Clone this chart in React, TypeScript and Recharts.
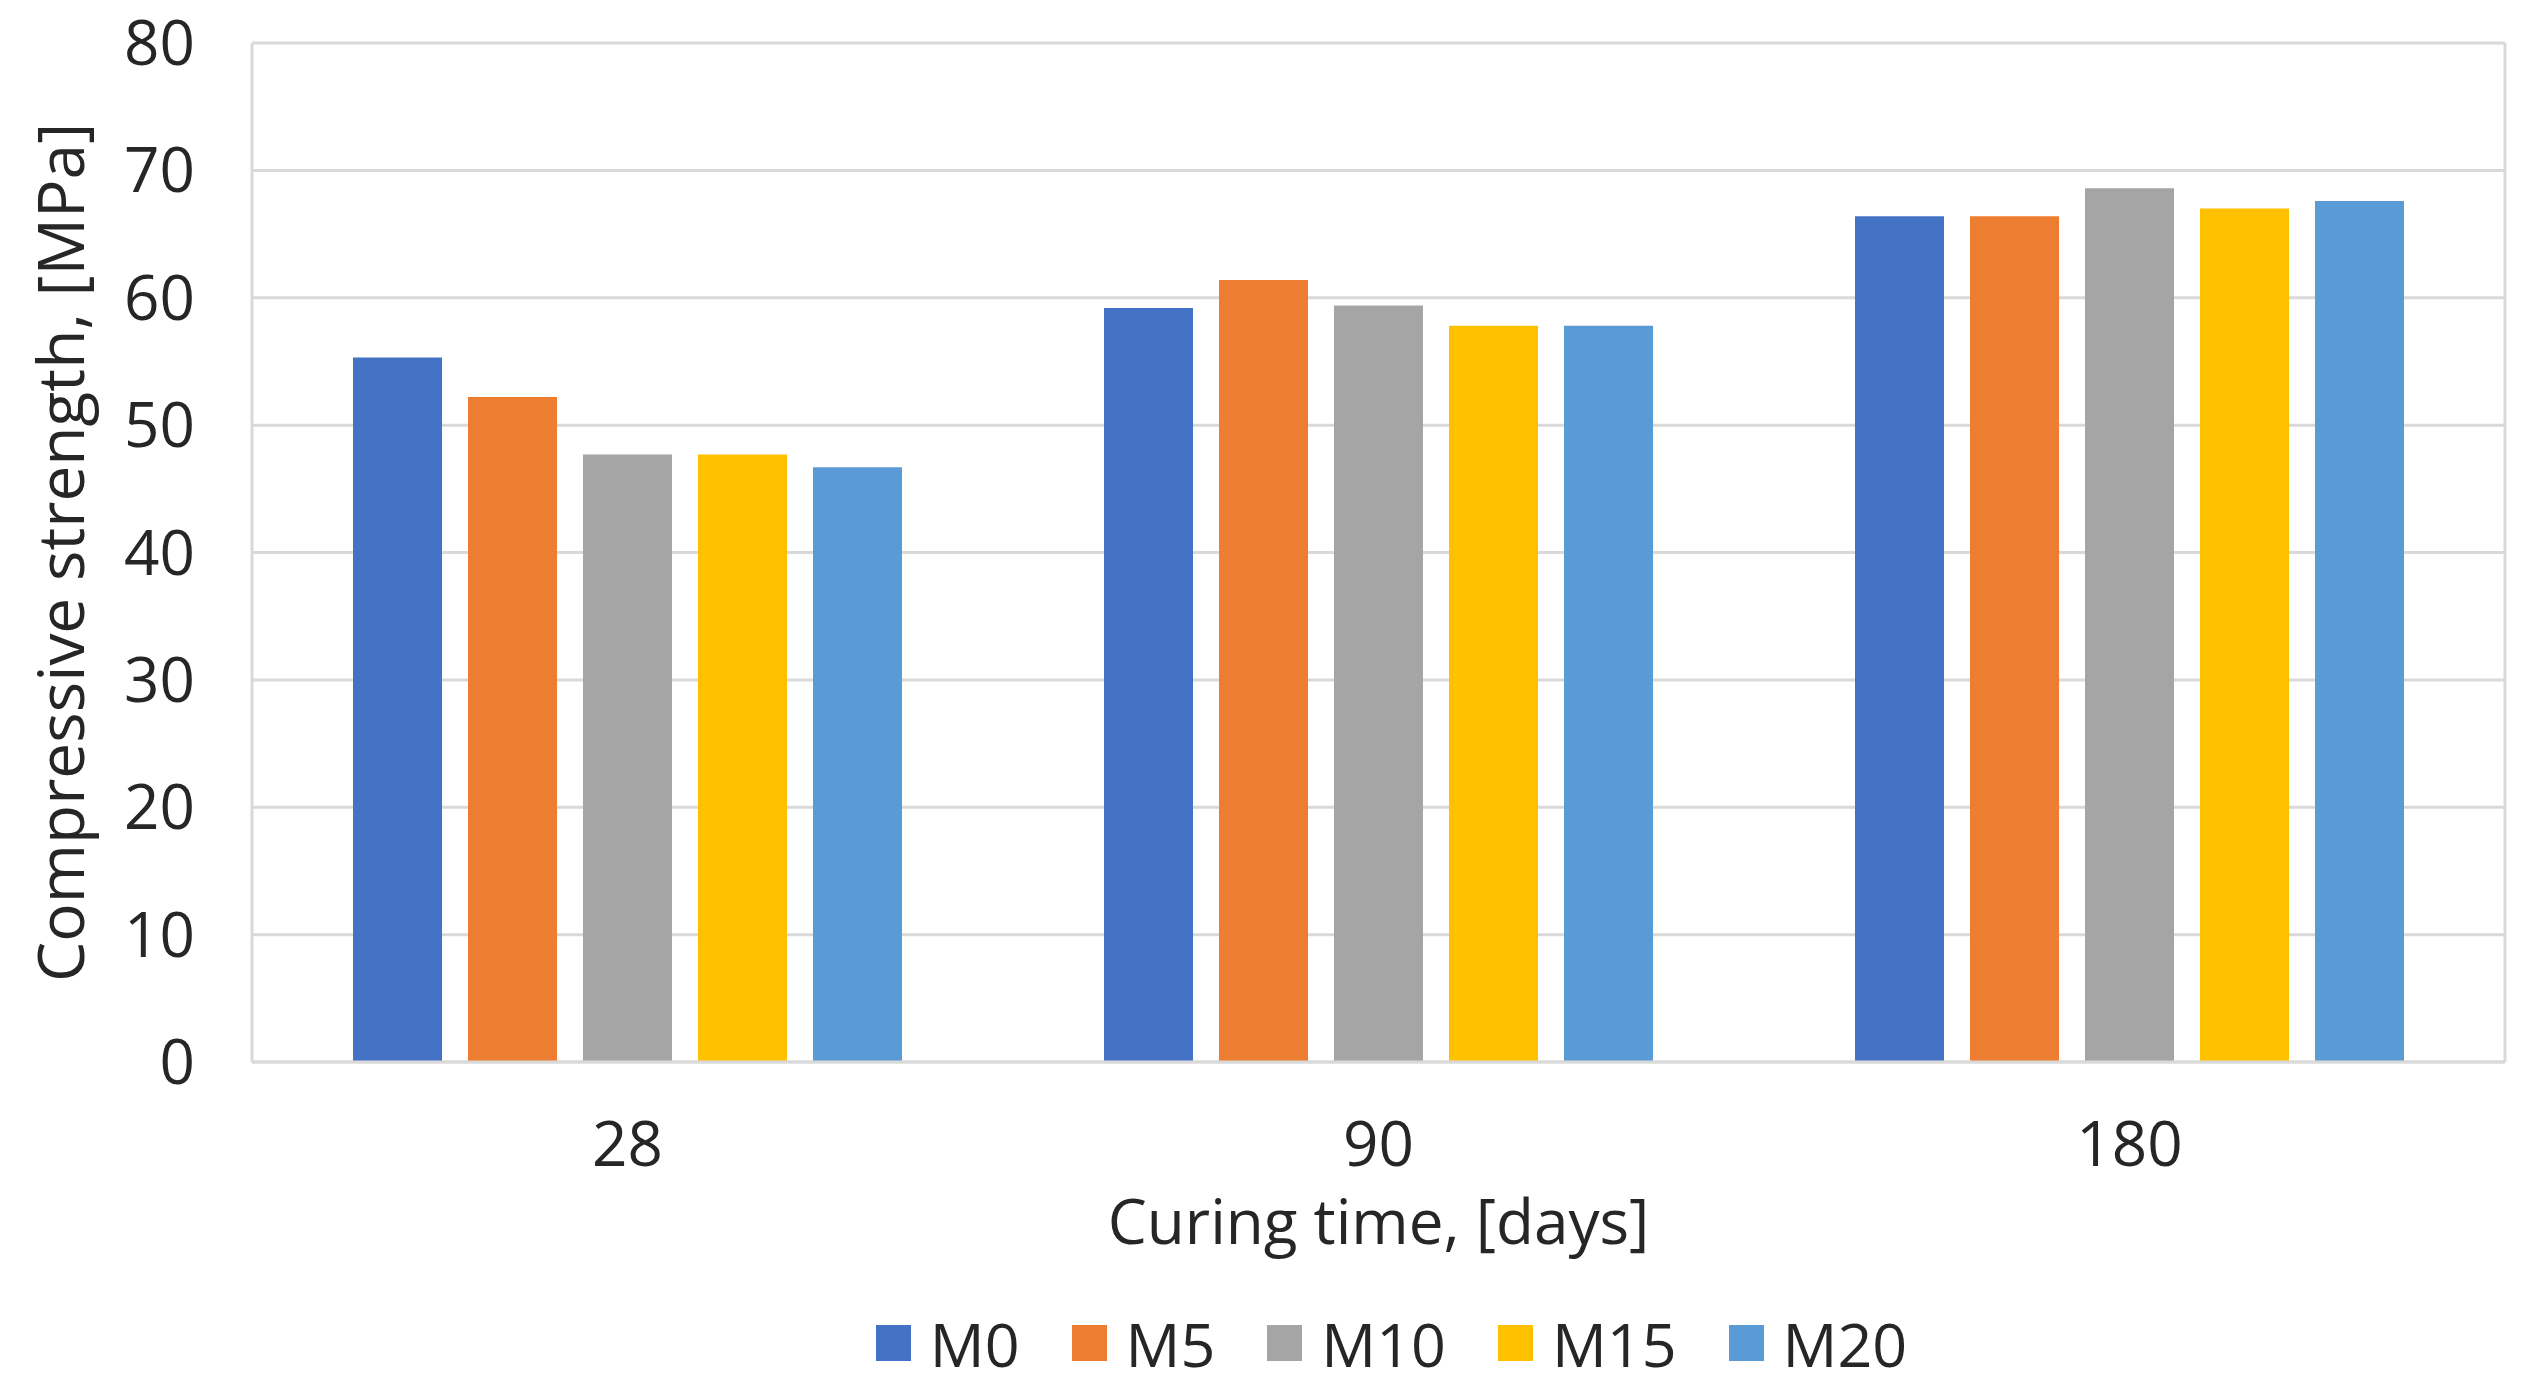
import React from "react"
import { BarChart, Bar, XAxis, YAxis, CartesianGrid, Legend } from "recharts"

const curingDays = ["28", "90", "180"]
const m0 = [55.3, 59.2, 66.4]
const m5 = [52.2, 61.4, 66.4]
const m10 = [47.7, 59.4, 68.6]
const m15 = [47.7, 57.8, 67.0]
const m20 = [46.7, 57.8, 67.6]
const yTicks = [0, 10, 20, 30, 40, 50, 60, 70, 80]

const seriesNames = ["M0", "M5", "M10", "M15", "M20"]
const seriesColors = ["#4472C4", "#ED7D31", "#A5A5A5", "#FFC000", "#5B9BD5"]
const seriesValues = [m0, m5, m10, m15, m20]

const data = curingDays.map((day, i) => {
  const row: Record<string, string | number> = { day }
  seriesNames.forEach((name, s) => {
    row[name] = seriesValues[s][i]
  })
  return row
})

const FONT = "'Open Sans', sans-serif"
const TEXT = "#262626"
const GRID = "#d9d9d9"

function YLabel(props: any) {
  const vb = props.viewBox
  const cy = vb.y + vb.height / 2
  return (
    <text
      x={84}
      y={cy}
      transform={`rotate(-90, 84, ${cy})`}
      textAnchor="middle"
      fontFamily={FONT}
      fontSize={64}
      fill={TEXT}
    >
      Compressive strength, [MPa]
    </text>
  )
}

function XLabel(props: any) {
  const vb = props.viewBox
  return (
    <text
      x={vb.x + vb.width / 2}
      y={vb.y + 182}
      textAnchor="middle"
      fontFamily={FONT}
      fontSize={62}
      fill={TEXT}
    >
      Curing time, [days]
    </text>
  )
}

// keep the series order, not the legend's alphabetical sort
function LegendContent() {
  return (
    <div
      style={{
        display: "flex",
        justifyContent: "center",
        alignItems: "center",
        height: 80,
        paddingLeft: 330,
        fontFamily: FONT,
        fontSize: 61,
        color: TEXT,
      }}
    >
      {seriesNames.map((name, s) => (
        <div
          key={name}
          style={{ display: "flex", alignItems: "center", marginRight: 52 }}
        >
          <span
            style={{
              display: "inline-block",
              width: 35,
              height: 36,
              background: seriesColors[s],
              marginRight: 19,
            }}
          />
          <span>{name}</span>
        </div>
      ))}
    </div>
  )
}

export default function App() {
  return (
    <div style={{ position: "absolute", left: 0, top: 0, background: "#fff" }}>
      <BarChart
        width={2531}
        height={1386}
        data={data}
        margin={{ top: 43, right: 26, bottom: 3, left: 0 }}
        barGap={26}
        barSize={89}
      >
        <CartesianGrid
          stroke={GRID}
          strokeWidth={3}
          verticalCoordinatesGenerator={({ offset }: any) => [
            offset.left,
            offset.left + offset.width,
          ]}
        />
        <XAxis
          dataKey="day"
          height={241}
          axisLine={{ stroke: GRID, strokeWidth: 3 }}
          tickLine={false}
          tickSize={0}
          tickMargin={60}
          tick={{ fontFamily: FONT, fontSize: 62, fill: TEXT }}
          label={<XLabel />}
        />
        <YAxis
          width={252}
          domain={[0, 80]}
          ticks={yTicks}
          axisLine={false}
          tickLine={false}
          tickSize={0}
          tickMargin={57}
          tick={{ fontFamily: FONT, fontSize: 62, fill: TEXT }}
          label={<YLabel />}
        />
        <Legend verticalAlign="bottom" content={<LegendContent />} />
        {seriesNames.map((name, s) => (
          <Bar
            key={name}
            dataKey={name}
            fill={seriesColors[s]}
            isAnimationActive={false}
          />
        ))}
      </BarChart>
    </div>
  )
}
